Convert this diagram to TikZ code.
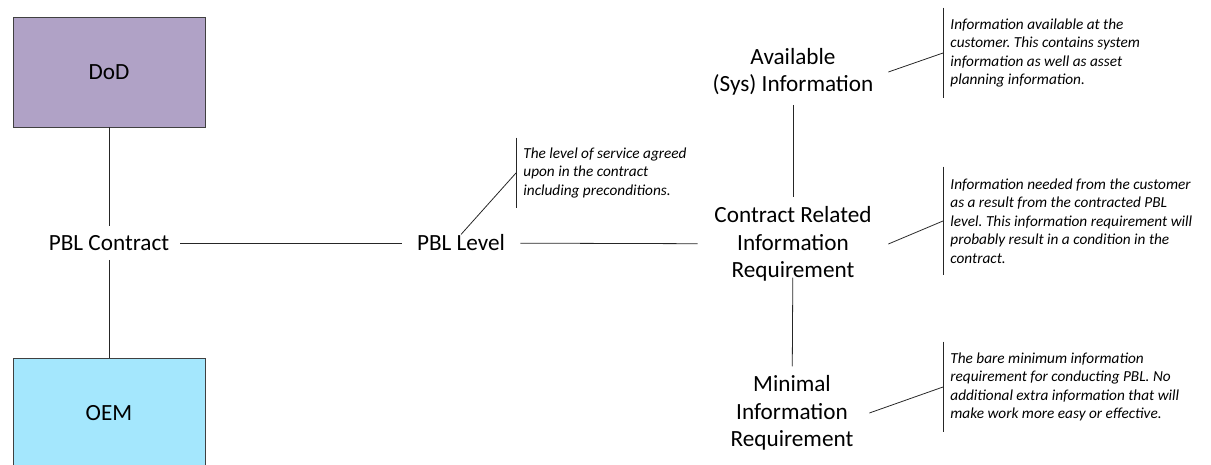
\documentclass[tikz,border=0pt]{standalone}
\usepackage{fontspec}
\setmainfont{Carlito}
\usepackage{xcolor}
\usepackage{tikz}
\definecolor{dodpurple}{HTML}{B0A2C6}
\definecolor{oemblue}{HTML}{A4E7FD}
\definecolor{edgegray}{HTML}{404040}
\frenchspacing

\begin{document}
\begin{tikzpicture}[x=0.02cm, y=-0.02cm, line width=0.45pt]
        \tikzstyle{party}=[draw=edgegray, minimum width=3.84cm, minimum height=2.2cm, font=\fontsize{13.2}{15.5}\selectfont]
        \tikzstyle{item}=[align=center, inner xsep=0pt, inner ysep=0.18cm, font=\fontsize{13.2}{15.5}\selectfont]
        \tikzstyle{note}=[align=left, anchor=west, inner ysep=0pt, inner xsep=0.14cm, font=\fontsize{8.7}{10.5}\selectfont\itshape]
        \tikzstyle{link}=[draw=black!85]
        \useasboundingbox (0,0) rectangle (1211,465);
        \clip (0,0) rectangle (1211,465);
        % parties and contract
        \node[party, fill=dodpurple] (dod) at (109,72) {DoD};
        \node[party, fill=oemblue] (oem) at (109,413) {OEM};
        \node[item, minimum width=2.84cm] (pblc) at (109,243) {PBL Contract};
        \node[item, minimum width=2.36cm, inner ysep=0pt] (pbll) at (461,243) {PBL Level};
        % information levels
        \node[item, minimum width=3.8cm] (avail) at (793,72) {Available\\(Sys) Information};
        \node[item, minimum width=3.8cm] (crir) at (793,244) {Contract Related\\Information\\Requirement};
        \node[item, minimum width=3.08cm] (minir) at (792,413) {Minimal\\Information\\Requirement};
        % annotations
        \node[note, minimum height=1.4cm] (notepbl) at (516,173) {The level of service agreed\\upon in the contract\\including preconditions.};
        \node[note, minimum height=1.8cm] (noteavail) at (943,53) {Information available at the\\customer. This contains system\\information as well as asset\\planning information.};
        \node[note, minimum height=2.16cm] (notecrir) at (943,221) {Information needed from the customer\\as a result from the contracted PBL\\level. This information requirement will\\probably result in a condition in the\\contract.};
        \node[note, minimum height=1.8cm] (notemin) at (943,387) {The bare minimum information\\requirement for conducting PBL. No\\additional extra information that will\\make work more easy or effective.};
        \draw[link] (dod) -- (pblc);
        \draw[link] (pblc) -- (oem);
        \draw[link] (pblc) -- (pbll);
        \draw[link] (pbll) -- (crir);
        \draw[link] (avail) -- (crir);
        \draw[link, shorten <=-0.26cm] (crir) -- (minir);
        \draw[link] (pbll.north) -- (notepbl.west);
        \draw[link] (avail.east) -- (noteavail.west);
        \draw[link] (crir.east) -- (notecrir.west);
        \draw[link] (minir.east) -- (notemin.west);
        \foreach \n in {notepbl,noteavail,notecrir,notemin}
            \draw[link] (\n.north west) -- (\n.south west);
    \end{tikzpicture}
\end{document}
